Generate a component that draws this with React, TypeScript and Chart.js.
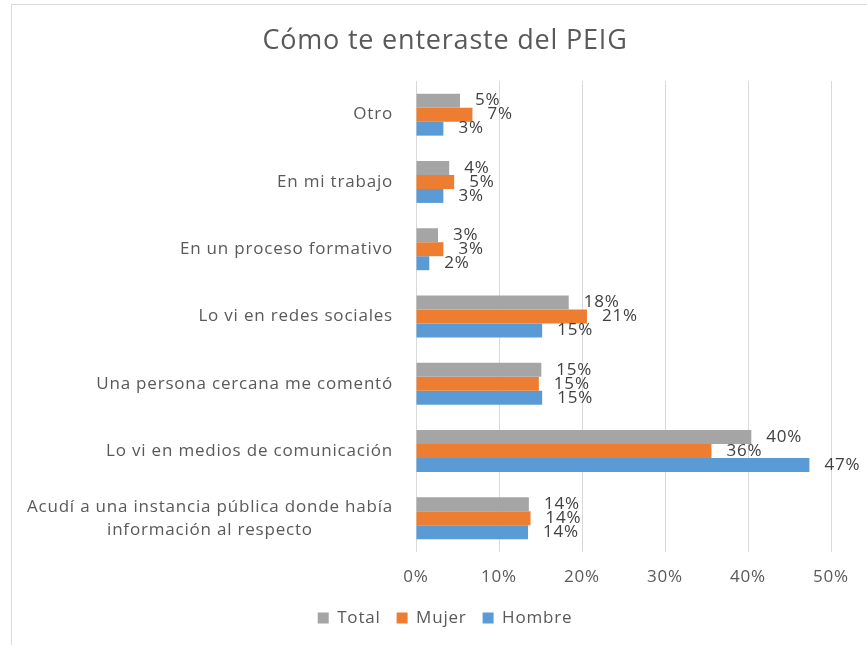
import React, { useEffect, useRef } from "react";
import { Chart, registerables } from "chart.js";

Chart.register(...registerables);

const categories: string[][] = [
  ["Otro"],
  ["En mi trabajo"],
  ["En un proceso formativo"],
  ["Lo vi en redes sociales"],
  ["Una persona cercana me comentó"],
  ["Lo vi en medios de comunicación"],
  ["Acudí a una instancia pública donde había", "información al respecto"],
];
const seriesNames = ["Total", "Mujer", "Hombre"];
const totalValues = [5.3, 4.0, 2.65, 18.4, 15.1, 40.4, 13.6];
const mujerValues = [6.8, 4.6, 3.3, 20.6, 14.8, 35.6, 13.8];
const hombreValues = [3.3, 3.3, 1.6, 15.2, 15.2, 47.4, 13.5];
const xTickValues = [0, 10, 20, 30, 40, 50];
const titleText = "Cómo te enteraste del PEIG";

const FONT = "'Open Sans', 'DejaVu Sans', sans-serif";
const colors = ["#a5a5a5", "#ed7d31", "#5b9bd5"];
const SPACING = "0.8px";

const setSpacing = (chart: any) => {
  try {
    (chart.ctx as any).letterSpacing = SPACING;
  } catch (e) {}
};

const spacingPlugin = {
  id: "spacing",
  beforeUpdate: setSpacing,
  beforeLayout: setSpacing,
  beforeDraw: setSpacing,
  beforeDatasetsDraw: setSpacing,
};

const framePlugin = {
  id: "frame",
  beforeDraw(chart: any) {
    const ctx = chart.ctx;
    ctx.save();
    ctx.fillStyle = "#ffffff";
    ctx.fillRect(0, 0, chart.width, chart.height);
    ctx.strokeStyle = "#d9d9d9";
    ctx.lineWidth = 1;
    ctx.beginPath();
    ctx.moveTo(11.5, chart.height);
    ctx.lineTo(11.5, 4.5);
    ctx.lineTo(chart.width, 4.5);
    ctx.stroke();
    ctx.restore();
  },
};

const yLabelPlugin = {
  id: "yLabels",
  afterDraw(chart: any) {
    const ctx = chart.ctx;
    const yScale = chart.scales.y;
    const right = chart.chartArea.left - 23;
    const lineH = 23;
    ctx.save();
    ctx.letterSpacing = SPACING;
    ctx.font = `17px ${FONT}`;
    ctx.fillStyle = "#595959";
    ctx.textAlign = "center";
    ctx.textBaseline = "middle";
    categories.forEach((lines, i) => {
      const y = yScale.getPixelForValue(i);
      const w = Math.max(...lines.map((l) => ctx.measureText(l).width));
      const cx = right - w / 2;
      const y0 = y - ((lines.length - 1) * lineH) / 2;
      lines.forEach((l, j) => ctx.fillText(l, cx, y0 + j * lineH));
    });
    ctx.restore();
  },
};

const dataLabelPlugin = {
  id: "dataLabels",
  afterDatasetsDraw(chart: any) {
    const ctx = chart.ctx;
    ctx.save();
    ctx.letterSpacing = SPACING;
    ctx.font = `17px ${FONT}`;
    ctx.fillStyle = "#404040";
    ctx.textAlign = "left";
    ctx.textBaseline = "middle";
    chart.data.datasets.forEach((ds: any, d: number) => {
      const meta = chart.getDatasetMeta(d);
      meta.data.forEach((el: any, i: number) => {
        ctx.fillText(Math.round(ds.data[i]) + "%", el.x + 15, el.y);
      });
    });
    ctx.restore();
  },
};

export default function App() {
  const ref = useRef<HTMLCanvasElement | null>(null);
  useEffect(() => {
    if (!ref.current) return;
    Chart.defaults.font.family = FONT;
    const chart = new Chart(ref.current, {
      type: "bar",
      data: {
        labels: categories.map((c) => c.join(" ")),
        datasets: [
          { label: seriesNames[0], data: totalValues, backgroundColor: colors[0] },
          { label: seriesNames[1], data: mujerValues, backgroundColor: colors[1] },
          { label: seriesNames[2], data: hombreValues, backgroundColor: colors[2] },
        ],
      },
      options: {
        indexAxis: "y",
        animation: false,
        responsive: false,
        maintainAspectRatio: false,
        datasets: { bar: { categoryPercentage: 0.624, barPercentage: 1 } },
        layout: { padding: { left: 23, right: 0, top: 0, bottom: 8.5 } },
        scales: {
          x: {
            min: 0,
            max: 50,
            afterBuildTicks: (scale: any) => {
              scale.ticks = xTickValues.map((v) => ({ value: v }));
            },
            afterFit: (scale: any) => {
              scale.height = 41.5;
            },
            ticks: {
              color: "#595959",
              font: { size: 17 },
              padding: 15,
              callback: (v: any) => v + "%",
            },
            grid: { color: "#d9d9d9", lineWidth: 1, drawTicks: false },
            border: { display: false },
          },
          y: {
            display: true,
            afterFit: (scale: any) => {
              scale.width = 393;
            },
            ticks: { display: false },
            grid: { display: false },
            border: { display: false },
          },
          y2: {
            type: "category",
            axis: "y",
            position: "right",
            display: true,
            afterFit: (scale: any) => {
              scale.width = 36;
            },
            ticks: { display: false },
            grid: { display: false },
            border: { display: false },
          },
        },
        plugins: {
          title: {
            display: true,
            text: titleText,
            color: "#595959",
            font: { size: 27, weight: "normal", lineHeight: 1.2 },
            padding: { top: 25, bottom: 23.6 },
          },
          legend: {
            position: "bottom",
            labels: {
              boxWidth: 11,
              boxHeight: 11,
              padding: 16,
              color: "#595959",
              font: { size: 17 },
            },
          },
          tooltip: { enabled: false },
        },
      },
      plugins: [spacingPlugin, framePlugin, yLabelPlugin, dataLabelPlugin],
    } as any);
    return () => chart.destroy();
  }, []);
  return (
    <div style={{ position: "fixed", left: 0, top: 0, width: 867, height: 645, background: "#fff" }}>
      <canvas ref={ref} width={867} height={645} style={{ display: "block", width: 867, height: 645 }} />
    </div>
  );
}
